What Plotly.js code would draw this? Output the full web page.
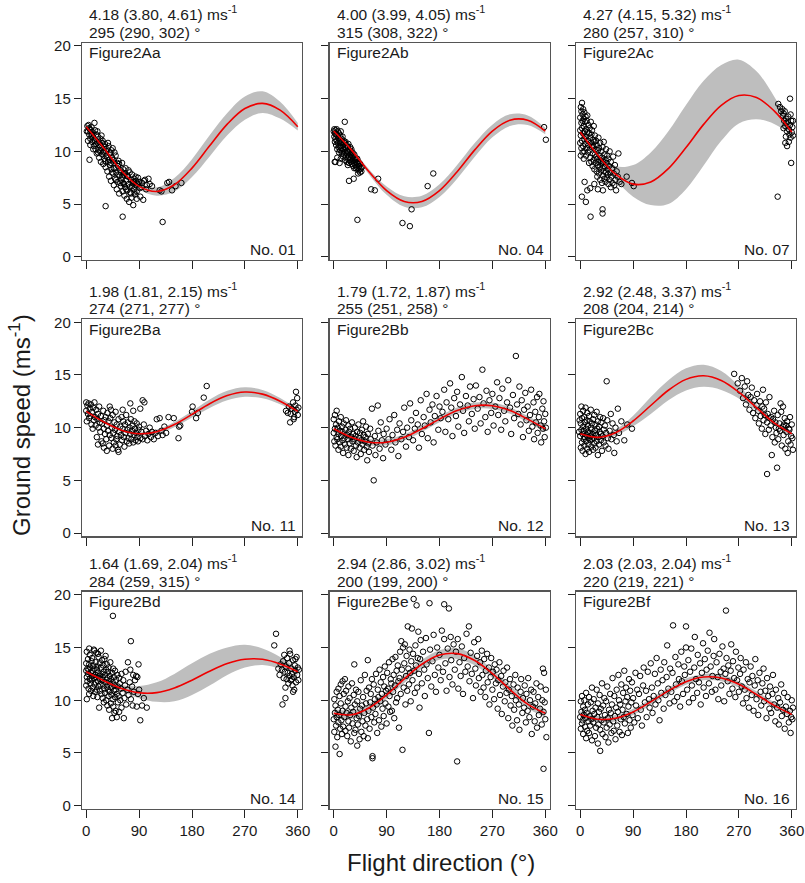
<!DOCTYPE html>
<html>
<head>
<meta charset="utf-8">
<script src="https://cdn.plot.ly/plotly-3.0.1.min.js"></script>
<style>html,body{margin:0;padding:0;background:#fff;}#chart{width:805px;height:883px;}</style>
</head>
<body>
<div id="chart"></div>
<script>
// ---------------- DATA ----------------
const angles = [0,30,60,90,120,150,180,210,240,270,300,330,360];
const xTicks = [0,90,180,270,360];
const yTicks = [0,5,10,15,20];

const panelNames = ['Figure2Aa','Figure2Ab','Figure2Ac','Figure2Ba','Figure2Bb','Figure2Bc','Figure2Bd','Figure2Be','Figure2Bf'];
const panelNos = ['No. 01','No. 04','No. 07','No. 11','No. 12','No. 13','No. 14','No. 15','No. 16'];
const windSpeedText = ['4.18 (3.80, 4.61)','4.00 (3.99, 4.05)','4.27 (4.15, 5.32)','1.98 (1.81, 2.15)','1.79 (1.72, 1.87)','2.92 (2.48, 3.37)','1.64 (1.69, 2.04)','2.94 (2.86, 3.02)','2.03 (2.03, 2.04)'];
const windDirText = ['295 (290, 302)','315 (308, 322)','280 (257, 310)','274 (271, 277)','255 (251, 258)','208 (204, 214)','284 (259, 315)','200 (199, 200)','220 (219, 221)'];

// fitted curves (red) and confidence bands (grey)
const fitAa = [12.33,10.30,8.16,6.68,6.19,6.83,8.41,10.52,12.58,14.06,14.55,13.91,12.33];
const loAa  = [12.03,10.05,7.91,6.38,5.79,6.18,7.56,9.52,11.53,13.00,13.65,13.11,11.98];
const hiAa  = [12.63,10.55,8.41,6.98,6.59,7.48,9.26,11.52,13.63,15.20,15.70,14.71,12.68];

const fitAb = [11.93,10.14,8.06,6.27,5.24,5.24,6.27,8.06,10.14,11.93,12.96,12.96,11.93];
const loAb  = [11.68,9.94,7.81,5.87,4.74,4.69,5.67,7.41,9.49,11.33,12.41,12.51,11.63];
const hiAb  = [12.18,10.34,8.31,6.67,5.74,5.79,6.87,8.71,10.79,12.53,13.51,13.41,12.23];

const fitAc = [11.84,9.64,7.83,6.89,7.09,8.36,10.36,12.56,14.37,15.30,15.11,13.84,11.84];
const loAc  = [11.55,9.35,7.30,5.70,4.90,5.00,6.40,8.65,11.00,12.65,13.05,12.60,11.55];
const hiAc  = [12.15,10.00,8.60,8.70,9.90,11.90,14.40,16.70,18.20,18.70,17.60,15.20,12.15];

const fitBa = [11.54,10.53,9.76,9.42,9.62,10.29,11.26,12.27,13.04,13.38,13.18,12.51,11.54];
const loBa  = [11.34,10.38,9.61,9.27,9.42,10.04,10.96,11.87,12.59,12.93,12.78,12.21,11.34];
const hiBa  = [11.74,10.68,9.91,9.57,9.82,10.54,11.56,12.67,13.49,13.83,13.58,12.81,11.74];

const fitBb = [9.89,9.08,8.62,8.62,9.08,9.89,10.81,11.62,12.08,12.08,11.62,10.81,9.89];
const loBb  = [9.54,8.78,8.32,8.32,8.78,9.59,10.51,11.32,11.78,11.78,11.32,10.51,9.54];
const hiBb  = [10.24,9.38,8.92,8.92,9.38,10.19,11.11,11.92,12.38,12.38,11.92,11.11,10.24];

const fitBc = [9.42,9.08,9.52,10.63,12.10,13.55,14.58,14.92,14.48,13.37,11.90,10.45,9.42];
const loBc  = [9.17,8.83,9.22,10.13,11.30,12.60,13.53,13.87,13.58,12.77,11.60,10.20,9.17];
const hiBc  = [9.67,9.33,9.82,11.13,12.90,14.50,15.63,15.97,15.38,13.97,12.20,10.70,9.67];

const fitBd = [12.70,11.85,11.12,10.71,10.72,11.16,11.90,12.75,13.48,13.89,13.88,13.44,12.70];
const loBd  = [12.50,11.65,10.85,10.20,9.85,9.90,10.50,11.40,12.40,13.10,13.35,13.00,12.40];
const hiBd  = [12.90,12.05,11.45,11.35,11.70,12.50,13.50,14.40,15.00,15.25,14.90,14.10,13.00];

const fitBe = [8.76,8.62,9.27,10.51,12.03,13.41,14.28,14.42,13.77,12.53,11.01,9.63,8.76];
const loBe  = [8.36,8.22,8.87,10.11,11.63,13.01,13.83,13.92,13.32,12.13,10.61,9.23,8.36];
const hiBe  = [9.16,9.02,9.67,10.91,12.43,13.81,14.73,14.92,14.22,12.93,11.41,10.03,9.16];

const fitBf = [8.65,8.20,8.29,8.89,9.85,10.89,11.76,12.20,12.11,11.51,10.55,9.51,8.65];
const loBf  = [8.35,7.90,7.99,8.59,9.55,10.59,11.46,11.90,11.81,11.21,10.25,9.21,8.35];
const hiBf  = [8.95,8.50,8.59,9.19,10.15,11.19,12.06,12.50,12.41,11.81,10.85,9.81,8.95];

// observations [flight direction (deg), ground speed (m/s)]
const ptsAa = [[2,12.4],[3,11.9],[4,12.5],[5,11.6],[6,12.1],[7,11.2],[8,12.0],[9,11.5],[10,10.9],[11,11.8],[12,11.3],[13,10.5],[14,12.7],[15,11.0],[16,10.2],[17,11.6],[18,9.8],[19,10.8],[20,11.4],[21,10.1],[22,9.4],[23,10.6],[24,11.2],[25,9.0],[26,10.3],[27,9.7],[28,11.0],[29,8.8],[30,10.0],[31,9.3],[32,10.7],[33,8.5],[34,9.6],[35,10.2],[36,8.1],[37,9.0],[38,10.5],[39,7.6],[40,8.7],[41,9.9],[42,7.2],[43,8.3],[44,9.4],[45,10.3],[46,7.9],[47,6.8],[48,8.9],[49,7.4],[50,9.6],[51,8.0],[52,6.4],[53,7.1],[54,8.6],[55,9.1],[56,6.0],[57,7.7],[58,8.2],[59,6.7],[60,7.3],[61,8.9],[62,6.2],[63,7.0],[64,7.8],[65,5.8],[66,6.6],[67,8.4],[68,7.2],[69,5.5],[70,6.3],[71,7.6],[72,6.9],[73,5.2],[74,8.0],[75,6.1],[76,7.3],[77,5.6],[78,6.7],[79,7.0],[80,4.9],[81,6.4],[82,7.4],[83,5.9],[84,6.8],[85,7.2],[86,6.2],[88,6.9],[90,7.1],[92,5.7],[95,7.0],[97,5.4],[100,7.3],[103,6.8],[108,6.9],[112,6.7],[125,6.3],[128,6.2],[138,7.0],[141,7.1],[146,6.3],[152,6.7],[162,7.0],[5.6,9.2],[33,4.8],[62,3.8],[130,3.3],
[1,11.9],[3,11.0],[5,12.2],[7,10.6],[9,12.3],[10,11.6],[12,10.2],[14,11.1],[15,12.0],[17,10.7],[19,11.9],[20,9.9],[22,10.9],[24,10.0],[26,11.5],[27,10.8],[29,9.9],[31,10.4],[32,9.1],[34,10.0],[36,9.4],[37,10.8],[39,9.2],[40,9.8],[42,8.9],[43,10.1],[44,8.0],[46,9.2],[47,8.4],[48,9.9],[50,8.4],[51,7.3],[53,8.9],[55,7.8],[56,8.8],[58,7.0],[59,8.0],[61,7.6],[63,8.3],[64,6.9],[66,7.9],[68,6.4],[70,7.7],[72,8.2],[74,6.6],[76,6.0],[78,7.8],[80,7.1],[82,6.1],[84,7.6],[86,5.5],[88,7.5],[91,6.5],[94,6.6],[98,7.2],[102,6.4],[106,7.4]];

const ptsAb = [[0,11.9],[1,11.4],[1,12.1],[2,10.9],[2,11.7],[3,12.0],[3,11.2],[4,11.6],[4,10.6],[5,12.1],[5,11.0],[6,11.5],[6,10.2],[7,11.9],[7,10.8],[8,11.3],[8,10.4],[9,11.7],[9,9.9],[10,11.0],[10,10.5],[11,11.5],[11,10.1],[12,10.8],[12,11.9],[13,10.3],[13,11.2],[14,9.8],[14,10.9],[15,11.4],[15,10.0],[16,10.6],[16,9.5],[17,11.0],[17,10.2],[18,9.7],[18,10.8],[19,10.4],[19,9.2],[20,10.9],[20,9.9],[21,10.3],[21,9.5],[22,10.6],[22,9.0],[23,10.0],[23,9.7],[24,10.4],[24,9.3],[25,9.9],[25,10.7],[26,9.5],[26,8.9],[27,10.1],[27,9.2],[28,9.7],[28,10.4],[29,9.0],[29,9.8],[30,9.4],[30,10.2],[31,8.8],[31,9.6],[32,9.9],[32,9.1],[33,8.6],[33,9.5],[34,9.2],[34,8.9],[35,9.7],[35,8.4],[36,9.0],[36,9.4],[37,8.7],[38,9.2],[38,8.4],[39,8.9],[40,9.3],[40,8.5],[41,8.8],[42,8.2],[42,9.0],[43,8.6],[44,8.3],[45,8.8],[46,8.4],[47,8.1],[48,8.5],
[1.7,9.0],[10,8.9],[18.8,12.8],[26,7.2],[34,7.4],[40.3,3.5],[41.5,7.9],[44.8,8.0],[63.7,6.4],[69.9,6.3],[75.6,7.4],[117,3.2],[129.6,2.9],[132.5,4.5],[159.8,6.7],[169.4,7.9],[358,12.3],[361,11.1],[3,9.0],[6,9.4],[24,8.7],[12,9.3]];

const ptsAc = [[0,13.2],[0,12.0],[0,10.8],[1,14.2],[1,11.5],[1,9.6],[2,12.7],[2,13.8],[2,10.3],[3,14.6],[3,12.2],[3,11.0],[4,13.5],[4,9.9],[4,12.9],[5,11.7],[5,14.0],[5,10.5],[6,12.4],[6,13.1],[6,9.3],[7,11.2],[7,13.7],[7,10.0],[8,12.8],[8,11.9],[9,10.7],[9,13.3],[10,12.1],[10,9.6],[10,11.4],[11,12.9],[11,10.3],[12,11.8],[12,13.4],[13,9.9],[13,11.0],[14,12.5],[14,10.6],[15,8.9],[15,11.7],[16,12.2],[16,10.1],[17,9.4],[17,11.3],[18,12.8],[18,10.8],[19,9.0],[19,11.6],[20,10.4],[20,12.0],[21,8.6],[21,9.8],[22,11.1],[22,10.5],[23,9.2],[23,12.4],[24,10.9],[24,8.3],[25,9.7],[25,11.5],[26,10.2],[26,8.9],[27,9.5],[27,11.0],[28,8.1],[28,10.6],[29,9.3],[29,7.6],[30,10.1],[30,8.7],[31,11.3],[31,9.0],[32,7.9],[32,10.3],[33,8.5],[33,9.6],[34,10.8],[34,7.3],[35,9.1],[35,8.2],[36,10.0],[36,8.8],[37,7.0],[37,9.4],[38,8.4],[38,10.4],[39,7.7],[39,9.0],[40,8.1],[40,10.9],[41,7.4],[41,9.7],[42,8.6],[43,7.1],[43,9.2],[44,8.0],[44,10.2],[45,7.5],[45,8.9],[46,9.6],[47,7.8],[47,8.3],[48,6.9],[48,9.3],[49,8.6],[50,7.3],[50,10.0],[51,8.0],[52,6.6],[52,9.0],[53,7.6],[54,8.4],[55,7.0],[56,9.5],[57,7.9],[58,6.8],[59,8.7],[60,7.3],[61,6.3],[62,8.1],[64,7.6],[65,9.8],[67,7.1],[70,6.9],[79,7.6],[91,6.7],[88,7.0],
[2.8,5.7],[9.6,5.2],[17.6,3.8],[7.4,7.1],[12,6.3],[17,6.5],[38,4.5],[38,4.1],[38.6,6.3],[24,6.9],[30,6.4],
[337,14.5],[340,14.2],[342,13.8],[344,14.0],[345,13.4],[346,13.6],[347,12.9],[348,13.8],[349,12.4],[350,13.1],[351,12.7],[352,11.9],[353,12.8],[354,13.3],[355,12.1],[356,11.6],[357,15.0],[357,12.5],[358,11.3],[359,12.9],[360,11.8],[361,12.3],[362,11.5],[355,10.9],[352,10.5],[349,10.8],[359,8.9],[336,5.7],[350,11.4],[346,12.2],[362,12.9],[358,13.5]];

const ptsBa = [[0,12.4],[0,11.6],[1,10.6],[2,12.1],[3,11.3],[4,12.3],[5,10.9],[6,11.8],[7,11.1],[8,12.2],[9,10.3],[10,11.5],[11,9.9],[12,11.9],[13,10.7],[14,12.4],[15,11.0],[16,10.2],[17,11.7],[18,9.1],[19,10.8],[20,11.3],[21,10.0],[22,12.0],[23,10.5],[24,9.6],[25,11.1],[26,8.7],[27,10.4],[28,8.5],[29,11.6],[30,9.9],[31,10.7],[32,9.4],[33,11.0],[34,8.9],[35,10.2],[36,11.4],[37,9.7],[38,10.6],[39,8.3],[40,9.3],[41,10.9],[42,11.7],[43,9.0],[44,10.0],[45,11.2],[46,9.5],[47,8.6],[48,10.5],[49,9.8],[50,11.5],[51,8.9],[52,10.3],[53,9.2],[54,7.9],[55,10.8],[56,9.6],[57,8.4],[58,10.1],[59,9.3],[60,11.0],[61,8.8],[62,9.9],[63,10.6],[64,9.1],[65,8.2],[66,10.3],[67,9.5],[68,11.2],[69,8.7],[70,9.8],[71,10.5],[72,9.0],[73,8.5],[74,10.0],[75,9.4],[76,10.8],[77,8.9],[78,9.7],[79,10.2],[80,8.6],[81,9.3],[82,10.6],[83,9.9],[84,8.8],[85,9.5],[86,10.4],[87,9.1],[88,8.7],[89,9.8],[90,10.1],[92,9.0],[94,9.6],[96,8.9],[98,10.3],[100,9.2],[102,9.7],[104,8.8],[106,9.4],[108,10.0],[110,9.1],[112,9.6],[115,8.9],[118,9.5],[120,10.8],[122,9.2],[125,10.9],[128,9.7],[130,9.3],[133,10.1],[136,9.5],[96,12.6],[99,12.4],[92,11.8],[55,7.7],[140,11.0],[149,10.9],[157,9.0],[158,10.1],[160,10.2],[180,11.5],[181,12.0],[190,11.4],[200,12.85],[205,13.95],[187,10.9],[45,8.0],[35,7.8],[30,8.1],[50,8.3],[40,12.0],[62,11.7],[75,12.3],[80,11.6],[20,8.4],
[340,11.6],[345,12.0],[348,11.3],[350,11.8],[352,12.4],[354,11.0],[355,11.5],[356,12.1],[357,13.4],[358,11.7],[359,12.8],[360,11.2],[361,11.9],[347,10.5],[353,10.8],[343,11.4]];

const ptsBb = [[0,9.5],[0,10.8],[1,8.7],[2,9.9],[2,11.2],[3,8.3],[4,10.3],[5,9.1],[5,11.6],[6,8.9],[7,10.0],[8,9.4],[8,7.9],[9,10.6],[10,8.6],[11,9.7],[12,11.0],[12,8.2],[13,9.2],[14,10.1],[15,8.8],[15,9.6],[16,7.6],[17,10.4],[18,9.0],[19,8.4],[20,9.8],[21,10.7],[22,8.1],[23,9.3],[24,8.9],[25,10.2],[25,7.4],[26,9.6],[27,8.5],[28,9.9],[29,8.0],[30,9.1],[31,10.5],[32,8.7],[33,9.4],[34,7.8],[35,8.9],[36,10.0],[37,9.2],[38,8.3],[39,7.2],[40,9.6],[41,8.6],[42,10.3],[43,9.0],[44,8.1],[45,9.5],[46,7.5],[47,8.8],[48,9.8],[49,8.4],[50,10.6],[51,9.3],[52,7.9],[53,8.7],[54,9.1],[55,10.1],[56,8.2],[57,6.9],[58,9.4],[59,8.5],[60,7.7],[62,9.9],[63,8.9],[65,11.8],[66,8.3],[68,5.0],[70,9.2],[71,7.4],[73,8.6],[75,12.1],[76,9.7],[78,8.0],[80,10.5],[82,8.8],[84,7.1],[85,9.4],
[88,8.4],[90,9.9],[93,8.9],[95,10.8],[98,7.9],[100,9.3],[103,11.2],[105,8.6],[108,9.8],[110,7.3],[112,10.4],[115,8.9],[118,9.6],[120,11.9],[123,8.2],[125,10.0],[128,9.1],[130,12.3],[132,10.7],[135,8.8],[138,9.9],[140,11.4],[143,10.3],[145,8.1],[148,12.6],[150,9.4],[153,11.0],[155,10.2],[158,13.2],[160,9.0],[163,11.7],[165,10.5],[168,12.2],[170,8.6],[172,11.1],[175,13.0],[178,9.8],
[180,12.0],[182,10.9],[185,11.5],[188,13.6],[190,9.6],[192,12.4],[195,10.8],[198,14.2],[200,11.9],[202,9.2],[205,12.8],[208,11.1],[210,13.4],[212,10.1],[215,12.2],[218,14.8],[220,11.6],[222,9.5],[225,13.0],[228,12.1],[230,10.6],[232,13.9],[235,11.3],[238,12.7],[240,9.9],[242,14.0],[245,11.8],[248,12.9],[250,10.4],[253,15.5],[255,12.3],[258,11.0],[260,13.5],[262,9.6],[265,12.6],[268,11.4],[270,13.2],[272,10.2],[275,12.0],[278,14.3],[280,11.2],[282,12.8],[285,9.8],[287,13.7],[290,11.6],[292,10.6],[295,12.4],[297,14.5],[300,11.9],[302,9.4],[305,13.1],[307,10.9],[310,16.8],[312,12.2],[314,11.3],[316,13.9],[318,10.3],[320,12.6],[322,9.1],[324,11.7],[326,13.3],[328,10.7],[330,12.0],[332,9.7],[334,11.2],[336,13.6],[338,10.1],[340,12.4],[341,8.9],[343,11.5],[344,10.5],[346,12.9],[347,9.5],[349,11.0],[350,13.2],[352,10.2],[353,8.6],[355,11.8],[356,9.9],[357,12.5],[358,10.6],[359,9.1],[360,11.3],[361,10.0]];

const ptsBc = [[0,9.2],[0,11.3],[1,8.1],[1,10.4],[2,9.8],[2,12.0],[3,8.6],[3,10.9],[4,9.4],[4,7.8],[5,11.6],[5,10.1],[6,8.9],[6,9.7],[7,11.0],[7,8.3],[8,10.5],[8,9.1],[9,7.5],[9,11.9],[10,9.9],[10,8.7],[11,10.7],[11,9.3],[12,8.0],[12,11.4],[13,9.6],[13,10.2],[14,8.4],[14,9.0],[15,11.1],[15,7.7],[16,9.5],[16,10.6],[17,8.8],[17,9.2],[18,10.0],[18,11.7],[19,8.2],[19,9.8],[20,10.4],[20,8.9],[21,9.4],[22,7.9],[22,10.8],[23,9.0],[24,11.2],[24,8.5],[25,9.7],[26,10.3],[26,8.1],[27,9.3],[28,11.5],[28,8.7],[29,9.9],[30,10.6],[30,7.4],[31,9.1],[32,8.4],[32,10.1],[33,9.6],[34,11.0],[35,8.8],[35,9.4],[36,10.5],[37,7.8],[38,9.2],[39,10.9],[40,8.6],[40,9.8],[42,10.2],[43,8.3],[44,9.5],[45,14.4],[46,10.7],[47,9.0],[48,8.0],[50,9.7],[52,11.3],[53,8.9],[55,10.4],[57,9.3],[58,7.6],[60,10.0],[62,8.7],[64,11.8],[66,9.5],[70,10.6],[75,8.8],[80,10.3],[88,9.9],[-2,9.6],[-1,10.7],
[262,15.1],[268,14.2],[272,13.5],[275,14.7],[277,12.8],[280,13.9],[282,12.2],[284,14.4],[286,13.1],[288,11.7],[290,12.9],[292,13.8],[294,11.4],[296,12.6],[298,10.9],[300,12.1],[301,13.2],[303,11.6],[304,10.4],[306,12.5],[307,11.1],[309,9.9],[310,12.0],[312,10.7],[313,11.8],[315,9.4],[316,12.4],[318,10.5],[319,11.3],[321,9.8],[322,12.9],[324,10.2],[325,11.0],[327,9.1],[328,10.8],[330,11.6],[331,8.6],[333,10.0],[334,9.5],[336,11.2],[337,8.9],[339,10.4],[340,9.7],[342,11.5],[343,8.3],[345,10.1],[346,9.3],[348,10.9],[349,8.0],[351,9.6],[352,10.6],[354,8.7],[355,9.9],[357,11.0],[358,8.4],[359,9.2],[360,10.3],[361,9.0],[362,7.9],[353,7.6],[341,12.3],[311,13.6],[318,5.6],[335,6.2],[326,7.4],[345,12.0],[347,10.3],[356,9.8],[350,10.2],[338,9.9],[332,10.5],[322,10.9],[314,11.2]];

const ptsBd = [[0,12.8],[0,13.5],[0,11.4],[1,12.2],[1,14.6],[1,10.1],[2,13.0],[2,11.8],[3,12.5],[3,13.9],[4,11.1],[4,12.9],[5,13.4],[5,10.6],[6,12.0],[6,14.3],[7,11.6],[7,13.1],[8,12.6],[8,10.9],[9,13.7],[9,11.9],[10,12.3],[10,14.0],[11,11.2],[11,12.8],[12,13.3],[12,10.4],[13,12.1],[13,14.8],[14,11.5],[14,13.0],[15,12.4],[15,10.8],[16,13.6],[16,11.7],[17,12.2],[17,14.5],[18,11.0],[18,12.9],[19,13.2],[19,10.3],[20,11.8],[20,12.6],[21,14.1],[21,11.3],[22,12.3],[22,9.3],[23,13.5],[23,10.9],[24,12.0],[24,11.5],[25,13.1],[25,14.7],[26,10.6],[26,12.5],[27,11.9],[27,13.8],[28,10.2],[28,12.2],[29,11.4],[29,13.3],[30,12.7],[30,9.8],[31,11.1],[31,13.9],[32,12.4],[32,10.7],[33,11.7],[33,14.2],[34,10.0],[34,12.9],[35,11.3],[35,13.4],[36,9.5],[36,12.1],[37,11.0],[37,12.7],[38,10.4],[38,13.1],[39,11.8],[39,9.1],[40,12.3],[40,10.8],[41,11.5],[41,13.6],[42,9.7],[42,12.0],[43,10.5],[43,11.2],[44,8.3],[44,12.6],[45,10.1],[45,11.7],[46,9.4],[46,13.0],[47,10.9],[47,12.2],[48,8.8],[48,11.4],[49,10.3],[49,12.8],[50,11.0],[50,9.0],[51,11.9],[52,10.6],[52,8.4],[53,12.4],[54,9.8],[54,11.3],[55,10.4],[56,12.1],[56,8.9],[57,11.6],[58,10.0],[59,11.1],[60,9.3],[60,12.5],[62,10.7],[63,11.9],[64,8.3],[65,10.2],[66,11.4],[67,12.7],[68,9.6],[70,11.0],[71,13.6],[72,10.5],[74,11.7],[75,12.9],[76,10.1],[78,11.3],[79,9.5],[80,12.4],[81,10.8],[83,11.9],[85,12.3],[86,9.4],[87,12.2],[88,10.6],[89,13.4],[90,11.0],[92,8.1],[95,9.5],[98,10.2],[103,9.3],[45.4,18.0],[76,15.6],[5,14.9],[14,14.7],[20,14.4],
[320,15.2],[323,16.3],[327,13.0],[329,12.4],[331,13.4],[333,12.9],[334,9.6],[335,13.7],[336,12.1],[337,14.3],[338,12.7],[339,11.2],[339,10.2],[340,13.2],[341,12.0],[342,14.0],[343,12.6],[344,11.6],[345,13.5],[346,12.3],[347,14.4],[348,11.9],[349,13.0],[350,12.5],[351,11.4],[352,13.8],[353,12.2],[354,11.0],[355,13.3],[356,12.8],[357,11.7],[358,14.1],[359,12.4],[360,13.1],[361,11.9],[362,12.9],[346,14.7],[352,10.8],[356,13.9],[350,12.0]];

const ptsBe = [[0,8.2],[1,10.1],[1,7.0],[2,8.8],[3,5.6],[3,9.5],[4,7.6],[5,10.8],[5,8.4],[6,6.5],[7,9.1],[8,11.1],[8,7.9],[9,8.6],[10,4.9],[10,10.4],[11,7.3],[12,9.7],[12,11.5],[13,8.1],[14,6.8],[15,11.8],[15,9.0],[16,7.5],[17,10.6],[18,8.4],[19,12.0],[20,9.4],[20,7.1],[21,10.9],[22,8.8],[23,6.6],[24,9.9],[25,11.3],[25,8.0],[26,7.4],[27,10.2],[28,8.6],[29,6.1],[30,9.3],[31,11.6],[32,7.8],[33,8.9],[34,10.5],[35,13.4],[35,6.9],[36,9.6],[37,7.2],[38,11.0],[39,8.3],[40,5.7],[40,9.9],[41,7.7],[42,10.8],[43,8.5],[44,6.3],[45,9.2],[46,11.9],[47,7.0],[48,9.5],[49,8.0],[50,10.3],[51,6.6],[52,8.8],[53,12.4],[54,7.6],[55,9.7],[56,10.9],[57,8.2],[58,13.8],[58,6.4],[59,9.0],[60,11.2],
[61,7.3],[62,9.8],[63,10.6],[64,8.4],[65,12.0],[66,4.7],[66,4.5],[67,9.3],[68,11.5],[69,7.9],[70,10.1],[71,8.7],[72,12.5],[73,9.6],[74,6.9],[75,11.0],[76,10.3],[77,8.1],[78,12.9],[79,9.9],[80,11.7],[81,7.5],[82,10.6],[83,9.2],[84,12.2],[85,8.5],[86,11.3],[87,13.2],[88,9.7],[89,10.9],[90,7.8],[91,12.6],[92,11.1],[93,9.4],[94,13.6],[95,10.4],[96,8.9],[97,12.0],[98,11.6],[99,9.0],[100,13.9],[101,10.8],[102,12.4],[103,8.3],[104,11.4],[105,14.1],[106,9.8],[107,12.8],[108,10.2],[109,13.3],[110,11.8],[111,7.4],[112,12.1],[113,14.6],[114,10.6],[115,15.6],[116,12.9],[117,5.3],[118,15.0],[119,11.2],[120,13.5],
[121,15.3],[122,9.6],[123,12.3],[124,14.2],[125,10.9],[126,17.0],[127,13.0],[128,11.5],[129,14.8],[130,12.6],[131,9.9],[132,13.7],[133,16.8],[134,11.9],[135,14.4],[136,19.6],[137,12.8],[138,10.7],[139,15.2],[140,13.3],[141,19.0],[142,11.2],[143,14.0],[144,16.5],[145,12.5],[146,9.3],[147,13.9],[148,15.7],[150,11.6],[152,14.6],[154,12.9],[155,10.4],[157,15.9],[158,13.4],[160,12.1],[162,6.9],[163,19.2],[164,14.8],[166,11.3],[168,13.7],[170,16.2],[172,12.4],[174,10.8],[176,15.0],[178,13.1],[180,14.3],[182,11.9],[184,16.6],[186,12.7],[188,15.8],[188,19.1],[190,13.5],[192,10.9],[194,14.9],[196,18.7],[197,12.2],[199,16.0],[200,13.8],[202,11.5],[204,15.3],[206,12.9],[208,14.6],[210,4.2],[211,15.8],[212,11.1],[214,13.6],[216,12.3],[218,15.1],[220,10.6],[222,14.0],[224,12.7],[226,16.3],[228,13.2],[230,17.0],[231,11.8],[233,14.5],[235,12.5],[237,10.2],[239,15.5],
[241,13.0],[242,11.4],[244,14.2],[246,15.8],[247,12.1],[249,13.6],[250,10.8],[252,14.7],[253,12.4],[255,11.2],[256,13.9],[258,10.3],[259,12.8],[261,14.4],[262,11.7],[264,13.1],[265,9.6],[267,12.2],[268,14.0],[270,11.0],[271,12.7],[273,10.1],[274,13.4],[276,11.6],[277,12.9],[279,9.2],[280,11.9],[282,13.6],[283,10.5],[285,12.3],[286,8.7],[288,11.3],[289,12.8],[291,9.9],[292,11.7],[294,10.7],[295,13.1],[297,8.3],[298,11.0],[300,12.0],[301,9.5],[303,10.4],[304,7.6],[306,11.5],[307,9.1],[309,12.4],[310,10.0],[312,8.1],[313,11.2],[315,9.6],[316,7.2],[318,10.8],[319,12.0],[321,8.8],[322,10.2],[324,9.3],[325,11.4],[327,7.9],[328,10.6],[330,9.0],[331,12.1],[333,8.4],[334,10.0],[336,11.0],[337,6.8],[339,9.4],[340,10.8],[342,8.0],[343,9.7],[345,11.6],[346,7.4],[348,10.3],[349,8.6],[351,9.2],[352,11.3],[354,7.7],[355,10.0],[356,13.0],[357,3.5],[357,8.9],[358,12.6],[359,9.8],[360,8.2],[361,11.0],[362,6.5]];

const ptsBf = [[0,8.4],[1,9.9],[1,7.3],[2,8.9],[3,10.4],[3,7.8],[4,8.1],[5,9.4],[5,6.8],[6,8.6],[7,10.0],[8,7.5],[8,9.1],[9,8.3],[10,6.4],[10,10.7],[11,8.8],[12,7.1],[13,9.6],[14,8.0],[15,10.3],[15,6.9],[16,8.5],[17,7.6],[18,9.8],[19,8.2],[20,11.2],[20,6.2],[21,9.0],[22,7.9],[23,10.1],[24,8.7],[25,6.6],[26,9.3],[27,7.4],[28,11.0],[29,8.4],[30,5.9],[30,9.7],[31,7.7],[32,8.9],[33,10.5],[34,5.2],[34,7.2],[35,9.2],[36,8.1],[37,11.6],[38,6.8],[39,9.5],[40,7.9],[41,10.2],[42,8.6],[43,6.5],[44,9.9],[45,7.4],[46,11.3],[47,8.3],[48,6.0],[49,9.1],[50,7.7],[51,10.6],[52,8.8],[53,6.9],[54,9.6],[55,12.1],[56,8.0],[57,7.1],[58,10.4],[59,8.5],[60,6.3],[61,9.3],[62,11.0],[63,7.6],[64,8.9],[65,12.4],[66,10.0],[67,7.0],[68,9.6],[69,8.2],[70,11.5],[71,6.7],[72,9.1],[73,10.7],[74,8.4],[75,12.8],[76,7.8],[77,9.9],[78,11.2],[79,8.7],[80,10.3],[81,6.9],[82,9.4],[83,12.0],[84,8.1],[85,10.9],[86,7.4],[87,9.8],[88,11.7],[89,8.6],[90,10.2],
[92,7.9],[94,12.6],[95,9.5],[97,11.0],[98,8.3],[100,10.6],[102,12.3],[103,9.1],[105,7.6],[107,11.4],[108,13.1],[110,9.8],[112,10.9],[113,8.4],[115,12.7],[117,10.1],[118,9.3],[120,13.5],[122,11.2],[123,8.8],[125,10.4],[127,12.5],[128,9.6],[130,14.0],[132,11.6],[133,10.0],[135,8.1],[137,12.9],[138,10.7],[140,11.9],[142,9.2],[143,13.6],[145,10.5],[147,12.2],[148,15.2],[150,11.1],[152,9.7],[153,13.0],[155,10.8],[157,12.6],[158,17.1],[160,9.9],[162,14.1],[163,11.5],[165,10.3],[167,13.4],[168,12.0],[170,9.4],[172,14.6],[173,11.8],[175,10.6],[177,13.2],[178,12.4],[180,15.0],[180,17.0],
[182,11.0],[184,13.8],[185,9.8],[187,12.7],[189,14.9],[190,11.4],[192,10.2],[194,13.1],[195,16.0],[197,12.0],[199,10.7],[200,14.3],[202,11.7],[204,13.5],[205,9.6],[207,12.6],[209,15.4],[210,11.2],[212,13.9],[214,10.4],[215,12.9],[217,14.7],[219,11.6],[220,16.4],[222,13.2],[224,10.8],[225,12.3],[227,14.2],[228,15.8],[230,11.0],[232,13.6],[234,12.2],[235,10.1],[237,14.4],[239,12.7],[240,11.4],[242,15.1],[244,13.0],[245,9.9],[247,12.5],[248,18.5],[249,14.0],[251,11.8],[252,13.3],[254,10.6],[256,12.8],[257,15.3],[259,11.1],[260,13.7],[262,12.1],[264,10.3],[265,14.6],[267,11.9],[269,13.1],[270,10.8],
[272,12.5],[273,14.0],[275,11.3],[277,9.7],[278,12.9],[280,11.0],[282,13.6],[283,10.2],[285,12.0],[287,9.3],[288,11.7],[290,13.2],[292,10.5],[293,12.3],[295,9.0],[297,11.4],[298,13.9],[300,10.1],[302,11.9],[303,8.6],[305,12.6],[307,10.8],[308,9.5],[310,11.6],[312,13.0],[313,9.9],[315,10.9],[317,8.3],[318,12.1],[320,10.4],[322,9.2],[323,11.3],[325,8.8],[327,10.6],[328,12.4],[330,9.6],[332,8.0],[333,11.0],[335,9.3],[337,10.2],[338,7.7],[340,9.8],[342,11.5],[343,8.5],[345,9.1],[347,10.7],[348,7.3],[350,9.4],[352,8.7],[353,10.3],[355,7.9],[357,9.0],[358,6.9],[359,8.4],[360,10.0],[361,8.2],[362,9.3]];

// ---------------- LAYOUT / DRAWING ----------------
const W = 805, H = 883;
const FONT = 'Liberation Sans, Arial, Helvetica, sans-serif';
const frameX = [[82,302],[329.5,549.5],[576,796]];     // px, left/right of each column frame
const frameY = [[42.7,260],[319,536.3],[591.5,809]];   // px, top/bottom of each row frame

const series = [
  [ptsAa,fitAa,loAa,hiAa],[ptsAb,fitAb,loAb,hiAb],[ptsAc,fitAc,loAc,hiAc],
  [ptsBa,fitBa,loBa,hiBa],[ptsBb,fitBb,loBb,hiBb],[ptsBc,fitBc,loBc,hiBc],
  [ptsBd,fitBd,loBd,hiBd],[ptsBe,fitBe,loBe,hiBe],[ptsBf,fitBf,loBf,hiBf]
];

const traces = [];
const layout = {
  width: W, height: H,
  margin: {l:0, r:0, t:0, b:0},
  paper_bgcolor: '#ffffff', plot_bgcolor: '#ffffff',
  showlegend: false,
  font: {family: FONT, size: 15, color: '#1a1a1a'},
  annotations: []
};
const px = v => v / W;
const py = v => 1 - v / H;

series.forEach((s, i) => {
  const [pts, fit, lo, hi] = s;
  const r = Math.floor(i / 3), c = i % 3;
  const suf = i === 0 ? '' : String(i + 1);
  const xa = 'x' + suf, ya = 'y' + suf;

  traces.push({x: angles, y: lo, xaxis: xa, yaxis: ya, mode: 'lines',
    line: {width: 0, shape: 'spline', color: '#bebebe'}, hoverinfo: 'skip'});
  traces.push({x: angles, y: hi, xaxis: xa, yaxis: ya, mode: 'lines', fill: 'tonexty',
    fillcolor: '#bebebe', line: {width: 0, shape: 'spline', color: '#bebebe'}, hoverinfo: 'skip'});
  traces.push({x: pts.map(d => d[0]), y: pts.map(d => d[1]), xaxis: xa, yaxis: ya, mode: 'markers',
    marker: {symbol: 'circle-open', size: 5.5, color: '#000000', line: {width: 1}}});
  traces.push({x: angles, y: fit, xaxis: xa, yaxis: ya, mode: 'lines',
    line: {color: '#ee0000', width: 1.6, shape: 'spline'}});

  layout['xaxis' + suf] = {
    domain: [px(frameX[c][0]), px(frameX[c][1])], anchor: ya, range: [-7.2, 367.2],
    tickmode: 'array', tickvals: xTicks, ticktext: xTicks.map(String),
    showticklabels: r === 2, ticks: 'outside', ticklen: 8, tickwidth: 1, tickcolor: '#222',
    showline: true, mirror: true, linecolor: '#555', linewidth: 1.2,
    showgrid: false, zeroline: false, tickfont: {size: 15, color: '#1a1a1a', family: FONT}
  };
  layout['yaxis' + suf] = {
    domain: [py(frameY[r][1]), py(frameY[r][0])], anchor: xa, range: [-0.31, 20.31],
    tickmode: 'array', tickvals: yTicks, ticktext: yTicks.map(String),
    showticklabels: c === 0, ticks: 'outside', ticklen: 7, tickwidth: 1, tickcolor: '#222',
    showline: true, mirror: true, linecolor: '#555', linewidth: 1.2,
    showgrid: false, zeroline: false, tickfont: {size: 15, color: '#1a1a1a', family: FONT}
  };

  const L = frameX[c][0], R = frameX[c][1], T = frameY[r][0], B = frameY[r][1];
  const f = {family: FONT, size: 15.5, color: '#1a1a1a'};
  layout.annotations.push(
    {xref:'paper', yref:'paper', x: px(L + 5), y: py(T - 29.5), xanchor:'left', yanchor:'middle',
     text: windSpeedText[i] + ' ms<sup>-1</sup>', showarrow:false, font: f},
    {xref:'paper', yref:'paper', x: px(L + 5), y: py(T - 10.5), xanchor:'left', yanchor:'middle',
     text: windDirText[i] + ' °', showarrow:false, font: f},
    {xref:'paper', yref:'paper', x: px(L + 5), y: py(T + 10), xanchor:'left', yanchor:'middle',
     text: panelNames[i], showarrow:false, font: f},
    {xref:'paper', yref:'paper', x: px(R - 4), y: py(B - 10.5), xanchor:'right', yanchor:'middle',
     text: panelNos[i], showarrow:false, font: f}
  );
});

layout.annotations.push(
  {xref:'paper', yref:'paper', x: px(441), y: py(862), xanchor:'center', yanchor:'middle',
   text: 'Flight direction (°)', showarrow:false, font: {family: FONT, size: 24, color:'#1a1a1a'}},
  {xref:'paper', yref:'paper', x: px(20), y: py(425), xanchor:'center', yanchor:'middle', textangle: -90,
   text: 'Ground speed (ms<sup>-1</sup>)', showarrow:false, font: {family: FONT, size: 24, color:'#1a1a1a'}}
);

Plotly.newPlot('chart', traces, layout, {staticPlot: true, displayModeBar: false});
</script>
</body>
</html>
